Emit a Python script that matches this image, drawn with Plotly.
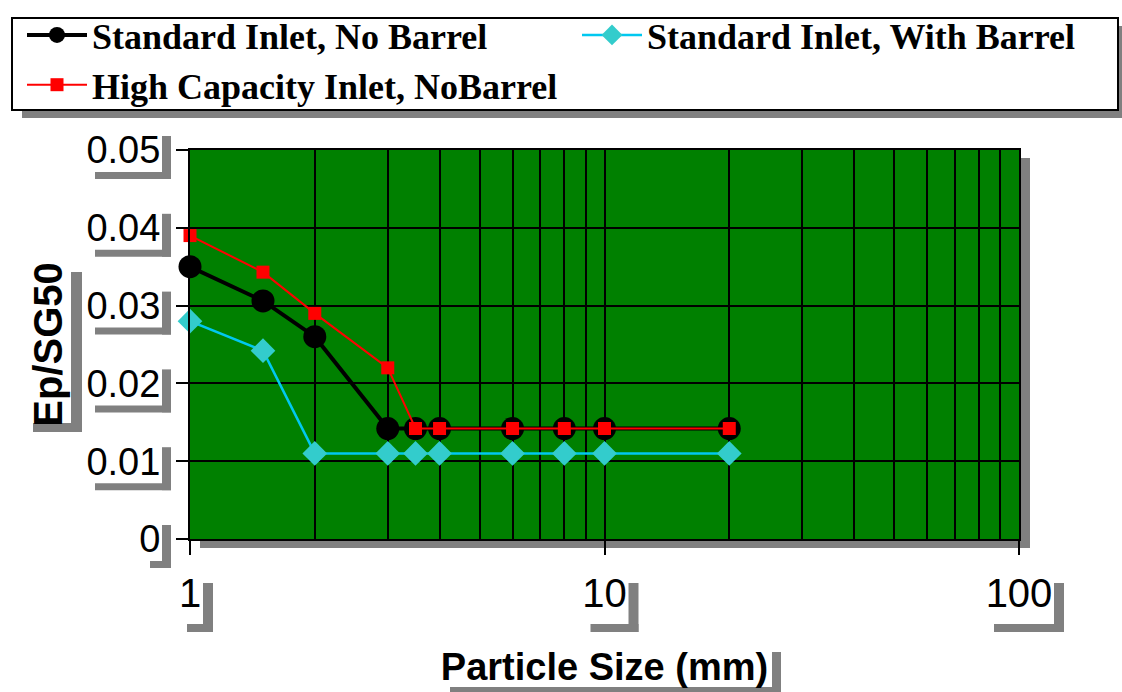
import math
import plotly.graph_objects as go

# ---------------- data ----------------
particle_size = [1, 1.5, 2, 3, 3.5, 4, 6, 8, 10, 20]
std_no_barrel = [0.035, 0.0306, 0.026, 0.0142, 0.0142, 0.0142, 0.0142, 0.0142, 0.0142, 0.0142]
std_with_barrel = [0.028, 0.0242, 0.011, 0.011, 0.011, 0.011, 0.011, 0.011, 0.011, 0.011]
high_cap_no_barrel = [0.039, 0.0343, 0.029, 0.022, 0.0142, 0.0142, 0.0142, 0.0142, 0.0142, 0.0142]

y_tickvals = [0, 0.01, 0.02, 0.03, 0.04, 0.05]
y_ticktext = ["0", "0.01", "0.02", "0.03", "0.04", "0.05"]
x_tickvals = [1, 10, 100]
x_ticktext = ["1", "10", "100"]
x_minor_vals = [2, 3, 4, 5, 6, 7, 8, 9, 20, 30, 40, 50, 60, 70, 80, 90]

series_names = ["Standard Inlet, No Barrel", "Standard Inlet, With Barrel",
                "High Capacity Inlet, NoBarrel"]

# ---------------- layout geometry (pixels) ----------------
W, H = 1122, 692
L, R, T, B = 190, 1019, 150, 539
GRAY = "#808080"


def xp(px):
    return (px - L) / (R - L)


def yp(py):
    return (B - py) / (B - T)


def rect(x0, y0, x1, y1, fill=GRAY, line_color=None, line_width=0):
    return dict(type="rect", xref="paper", yref="paper",
                x0=xp(x0), x1=xp(x1), y0=yp(y1), y1=yp(y0),
                fillcolor=fill, line=dict(width=line_width, color=line_color or fill),
                layer="below")


fig = go.Figure()
fig.add_trace(go.Scatter(
    x=particle_size, y=std_no_barrel, name=series_names[0], mode="lines+markers",
    line=dict(color="black", width=4), legend="legend", legendgroup="a",
    marker=dict(symbol="circle", size=23, color="black"), cliponaxis=False))
fig.add_trace(go.Scatter(
    x=particle_size, y=std_with_barrel, name=series_names[1], mode="lines+markers",
    line=dict(color="#00C8F0", width=2.5), legend="legend2", legendgroup="b",
    marker=dict(symbol="diamond", size=19, color="#33CCCC"), cliponaxis=False))
fig.add_trace(go.Scatter(
    x=particle_size, y=high_cap_no_barrel, name=series_names[2], mode="lines+markers",
    line=dict(color="#FF0000", width=2), legend="legend", legendgroup="c",
    marker=dict(symbol="square", size=13, color="#FF0000"), cliponaxis=False))

shapes = []
# plot-area shadow (right and bottom)
shapes.append(rect(R, T + 8, R + 11, B + 9))
shapes.append(rect(L + 10, B, R, B + 9))
# legend box + shadow
shapes.append(rect(22, 110, 1122, 118))
shapes.append(rect(1118, 26, 1122, 118))
shapes.append(rect(12, 18, 1118, 110, fill="white", line_color="black", line_width=2))

# y tick label shadows (anchored to tick values)
for v, t in zip(y_tickvals, y_ticktext):
    ypix = B - (v - 0) / 0.05 * (B - T)
    left = 95 if len(t) > 1 else 150
    shapes.append(rect(162, ypix - 14, 171, ypix + 29))
    shapes.append(rect(left, ypix + 22, 171, ypix + 29))
# x tick label shadows
for v, t in zip(x_tickvals, x_ticktext):
    xpix = L + math.log10(v) / 2 * (R - L)
    half = 11 * len(t)
    shapes.append(rect(xpix + half + 2, 583, xpix + half + 12, 632))
    shapes.append(rect(xpix - half + 8, 624, xpix + half + 12, 632))
# axis title shadows
shapes.append(rect(71, 272, 82, 432))
shapes.append(rect(33, 423, 82, 432))
shapes.append(rect(772, 652, 781, 692))
shapes.append(rect(450, 687, 781, 692))

legend_font = dict(family="Liberation Serif", size=36, color="black", weight="bold")

fig.update_layout(
    width=W, height=H,
    margin=dict(l=L, r=W - R, t=T, b=H - B, autoexpand=False),
    paper_bgcolor="white",
    plot_bgcolor="#008000",
    shapes=shapes,
    showlegend=True,
    legend=dict(
        orientation="v", x=xp(22), y=yp(5), xanchor="left", yanchor="top",
        xref="paper", yref="paper",
        bgcolor="rgba(0,0,0,0)", borderwidth=0,
        font=legend_font, itemwidth=60, tracegroupgap=0,
        traceorder="normal",
    ),
    legend2=dict(
        orientation="v", x=xp(577), y=yp(5), xanchor="left", yanchor="top",
        xref="paper", yref="paper",
        bgcolor="rgba(0,0,0,0)", borderwidth=0,
        font=legend_font, itemwidth=60,
    ),
    xaxis=dict(
        type="log", range=[0, 2],
        tickmode="array", tickvals=x_tickvals, ticktext=x_ticktext,
        ticks="outside", ticklen=14, tickwidth=2, tickcolor="black",
        ticklabelstandoff=4,
        tickfont=dict(family="Liberation Sans", size=40, color="black"),
        showgrid=True, gridcolor="black", gridwidth=2,
        minor=dict(tickmode="array", tickvals=x_minor_vals, showgrid=True,
                   gridcolor="black", gridwidth=2, ticks=""),
        showline=True, linecolor="black", linewidth=2, mirror=True,
        zeroline=False, automargin=False,
        title=dict(text="<b>Particle Size (mm)</b>", standoff=39,
                   font=dict(family="Liberation Sans", size=38, color="black")),
    ),
    yaxis=dict(
        range=[0, 0.05],
        tickmode="array", tickvals=y_tickvals, ticktext=y_ticktext,
        ticks="outside", ticklen=12, tickwidth=2, tickcolor="black",
        ticklabelstandoff=8,
        tickfont=dict(family="Liberation Sans", size=38, color="black"),
        showgrid=True, gridcolor="black", gridwidth=2,
        showline=True, linecolor="black", linewidth=2, mirror=True,
        zeroline=False, automargin=False,
        title=dict(text="<b>Ep/SG50</b>", standoff=11,
                   font=dict(family="Liberation Sans", size=40, color="black")),
    ),
)

fig.write_html("out.html", config={"displayModeBar": False},
               post_script="document.body.style.margin='0px';")
